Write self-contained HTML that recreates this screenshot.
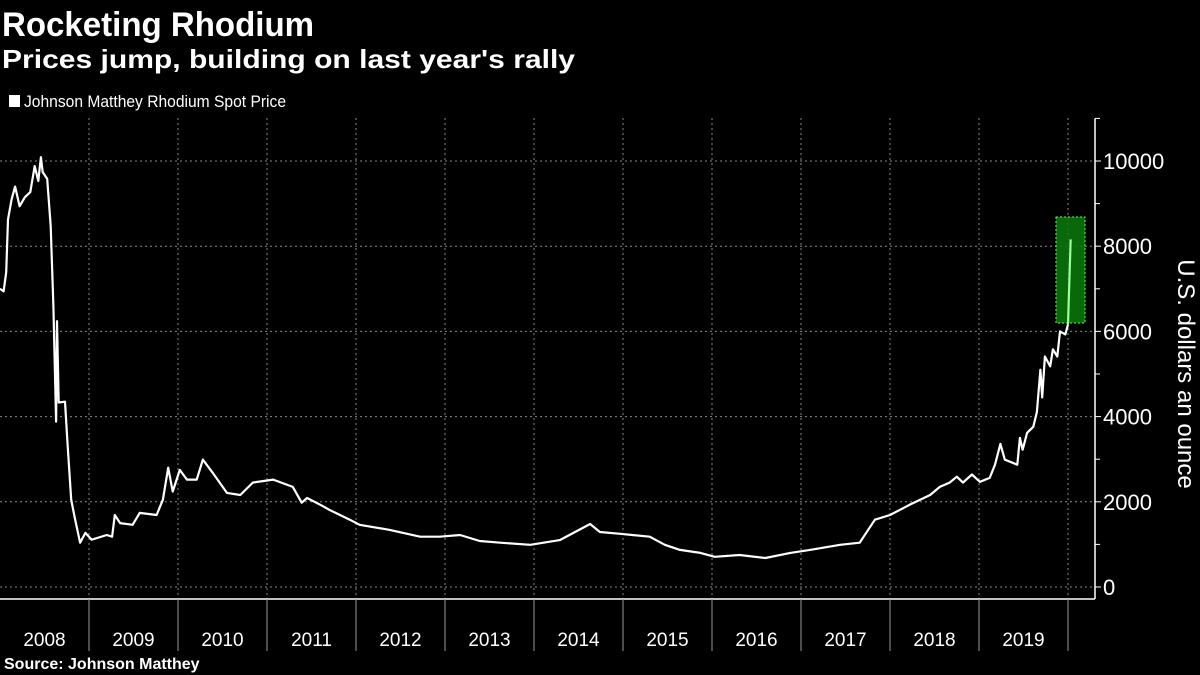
<!DOCTYPE html>
<html><head><meta charset="utf-8"><style>
html,body{margin:0;padding:0;background:#000;}
svg{display:block;font-family:"Liberation Sans",sans-serif;}
</style></head><body>
<svg id="chart" width="1200" height="675" viewBox="0 0 1200 675">
<text x="2" y="36" fill="#fff" font-size="34" font-weight="bold" textLength="312" lengthAdjust="spacingAndGlyphs">Rocketing Rhodium</text>
<text x="2" y="68" fill="#fff" font-size="26" font-weight="bold" textLength="573" lengthAdjust="spacingAndGlyphs">Prices jump, building on last year's rally</text>
<rect x="9" y="95" width="11" height="12" fill="#fff"/>
<text x="24" y="107" fill="#fff" font-size="17" textLength="262" lengthAdjust="spacingAndGlyphs">Johnson Matthey Rhodium Spot Price</text>
<g id="grid"></g>
<g id="xaxis"></g>
<g id="yaxis"></g>
<rect x="1056" y="217" width="29" height="106" fill="#0a7a0a" fill-opacity="0.85" stroke="#5f5" stroke-dasharray="2,2" stroke-width="1"/>
<g id="series"></g>
<text transform="translate(1178,374) rotate(90)" fill="#fff" font-size="24" text-anchor="middle">U.S. dollars an ounce</text>
<text x="4" y="669" fill="#fff" font-size="16" font-weight="bold">Source: Johnson Matthey</text>
</svg>
<script>
const years = [2008,2009,2010,2011,2012,2013,2014,2015,2016,2017,2018,2019];
const yTicks = [0,2000,4000,6000,8000,10000];
const dates = [2008.00,2008.04,2008.07,2008.09,2008.13,2008.17,2008.22,2008.28,2008.34,2008.39,2008.43,2008.46,2008.48,2008.53,2008.57,2008.60,2008.63,2008.64,2008.66,2008.73,2008.76,2008.80,2008.84,2008.90,2008.96,2009.03,2009.20,2009.26,2009.29,2009.35,2009.49,2009.57,2009.76,2009.83,2009.89,2009.94,2010.02,2010.10,2010.21,2010.28,2010.39,2010.55,2010.70,2010.84,2011.07,2011.29,2011.39,2011.45,2011.60,
2011.71,2011.93,2012.04,2012.38,2012.72,2012.94,2013.17,2013.39,2013.62,2013.96,2014.29,2014.63,2014.74,2014.97,2015.30,2015.47,2015.64,2015.87,2016.03,2016.31,2016.60,2016.88,2017.10,2017.44,2017.66,2017.83,2018.00,2018.22,2018.45,2018.56,
2018.67,2018.75,2018.82,2018.92,2019.01,2019.12,2019.18,2019.24,2019.29,2019.43,2019.46,2019.49,2019.54,2019.61,2019.65,2019.69,2019.71,2019.74,2019.80,2019.83,2019.88,2019.91,2019.97,2020.00,2020.03];
const prices = [7000,6940,7390,8630,9100,9400,8940,9150,9270,9880,9530,10090,9740,9580,8470,6590,3880,6240,4330,4350,3340,2050,1620,1040,1270,1110,1220,1180,1690,1500,1460,1740,1690,2050,2800,2240,2750,2520,2520,2990,2680,2210,2160,2450,2520,2350,1980,2090,1930,
1800,1580,1460,1340,1180,1180,1220,1080,1040,990,1100,1480,1290,1250,1180,990,870,800,710,750,680,800,870,990,1040,1580,1690,1930,2160,2350,
2450,2590,2450,2640,2470,2560,2870,3360,2990,2870,3500,3220,3620,3760,4110,5100,4450,5410,5180,5580,5410,6000,5930,6160,8160];
const NS="http://www.w3.org/2000/svg";
const X0=0, YW=89, Y0=587, YS=0.0426;
const xs=t=>X0+(t-2008)*YW;
const ys=v=>Y0-v*YS;
function mk(tag,attrs,parent){const e=document.createElementNS(NS,tag);for(const k in attrs)e.setAttribute(k,attrs[k]);parent.appendChild(e);return e;}
const grid=document.getElementById('grid'),xa=document.getElementById('xaxis'),ya=document.getElementById('yaxis'),ser=document.getElementById('series');
yTicks.forEach(v=>{
  const l=mk('line',{x1:0,x2:1095,y1:ys(v),y2:ys(v),stroke:'#888','stroke-dasharray':'2,3','stroke-width':1},grid);
  
  
  const tk=mk('line',{x1:1095,x2:1101,y1:ys(v),y2:ys(v),stroke:'#fff'},ya);
  
  
  const t=mk('text',{x:1103,y:ys(v)+8,fill:'#fff','font-size':22},ya);
  t.textContent=v;
  
  
});
for(let v=1000;v<=11000;v+=2000){
  const tk=mk('line',{x1:1095,x2:1100,y1:ys(v),y2:ys(v),stroke:'#fff'},ya);
  
  
}
const ax=mk('line',{x1:1095,x2:1095,y1:ys(11000),y2:599,stroke:'#fff','stroke-width':1.5},ya);


const bx=mk('line',{x1:0,x2:1095,y1:599,y2:599,stroke:'#fff','stroke-width':1.5},xa);


years.forEach(y=>{
  const gx=xs(y+1);
  const g=mk('line',{x1:gx,x2:gx,y1:118,y2:599,stroke:'#888','stroke-dasharray':'2,3'},grid);
  
  
  const tk=mk('line',{x1:gx,x2:gx,y1:599,y2:651,stroke:'#999'},xa);
  
  
  const t=mk('text',{x:xs(y+0.5),y:646,fill:'#fff','font-size':19,'text-anchor':'middle'},xa);
  t.textContent=y;
  
  
});
const n=Math.min(dates.length,prices.length);
let d='';
for(let i=0;i<n-1;i++) d+=(i?'L':'M')+xs(dates[i]).toFixed(1)+','+ys(prices[i]).toFixed(1);
const p=mk('path',{d:d,fill:'none',stroke:'#fff','stroke-width':2.2,'stroke-linejoin':'round'},ser);


const last=mk('line',{x1:xs(dates[n-2]),y1:ys(prices[n-2]),x2:xs(dates[n-1]),y2:ys(prices[n-1]),stroke:'#9f9','stroke-width':2.2},ser);


</script>
</body></html>
